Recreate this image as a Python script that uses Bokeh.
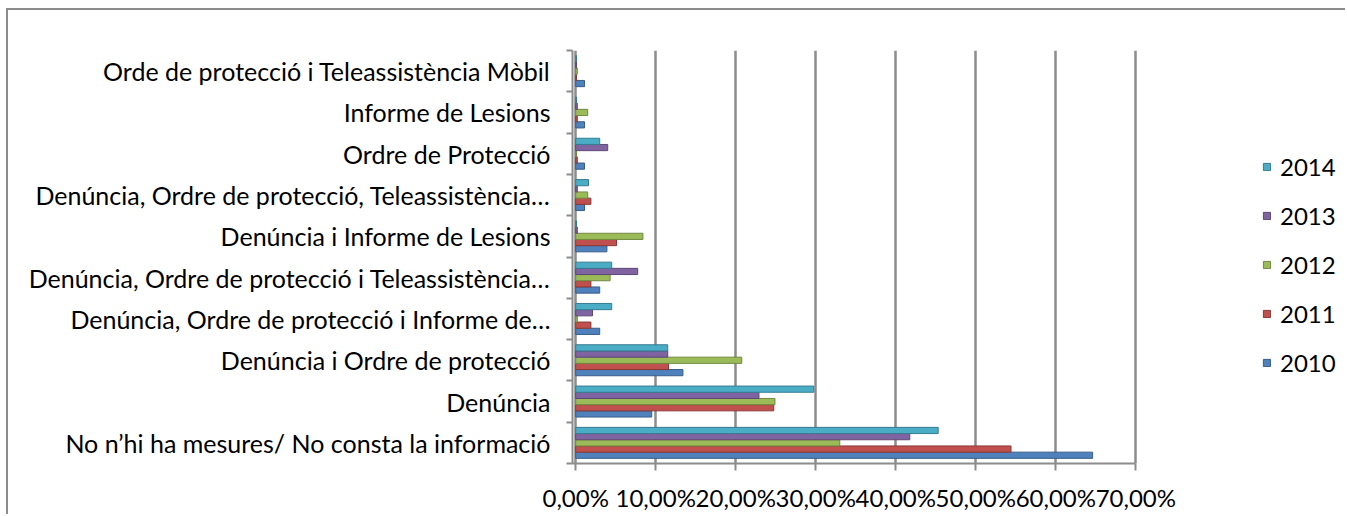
from bokeh.plotting import figure
from bokeh.models import ColumnDataSource, Range1d, FixedTicker, Legend, LegendItem
from bokeh.transform import dodge
from bokeh.embed import file_html
from bokeh.resources import INLINE

categories = [
    "No n’hi ha mesures/ No consta la informació",
    "Denúncia",
    "Denúncia i Ordre de protecció",
    "Denúncia, Ordre de protecció i Informe de…",
    "Denúncia, Ordre de protecció i Teleassistència…",
    "Denúncia i Informe de Lesions",
    "Denúncia, Ordre de protecció, Teleassistència…",
    "Ordre de Protecció",
    "Informe de Lesions",
    "Orde de protecció i Teleassistència Mòbil",
]
years = ["2010", "2011", "2012", "2013", "2014"]
v2010 = [64.6, 9.5, 13.4, 3.0, 3.0, 3.9, 1.1, 1.1, 1.1, 1.1]
v2011 = [54.4, 24.75, 11.6, 1.9, 1.9, 5.1, 1.9, 0.2, 0.2, 0.1]
v2012 = [33.0, 24.9, 20.75, 0.2, 4.3, 8.4, 1.5, 0.1, 1.5, 0.2]
v2013 = [41.75, 22.9, 11.5, 2.1, 7.75, 0.2, 0.2, 4.0, 0.2, 0.1]
v2014 = [45.3, 29.75, 11.5, 4.5, 4.5, 0.1, 1.6, 3.0, 0.1, 0.1]
x_ticks = [0, 10, 20, 30, 40, 50, 60, 70]
x_tick_labels = ["0,00%", "10,00%", "20,00%", "30,00%", "40,00%", "50,00%", "60,00%", "70,00%"]

colors = ["#4F81BD", "#C0504D", "#9BBB59", "#8064A2", "#4BACC6"]
edges = ["#385D8A", "#8C3836", "#71893F", "#5C4776", "#357D91"]
series = [v2010, v2011, v2012, v2013, v2014]
offsets = [-0.3, -0.15, 0.0, 0.15, 0.3]

pos = [i + 0.5 for i in range(len(categories))]
data = {"pos": pos}
for y, vals in zip(years, series):
    data["y" + y] = vals
src = ColumnDataSource(data)

FONT = "Lato"
FS = "24px"

p = figure(width=1339, height=506, output_backend="svg", toolbar_location=None,
           x_range=Range1d(-0.4, 96.2), y_range=Range1d(0, 10),
           min_border_left=564, min_border_right=2, min_border_top=40, min_border_bottom=53)
p.outline_line_color = None
p.styles = {"border-left": "2px solid #8c8c8c", "border-top": "2px solid #8c8c8c",
            "margin-left": "6px", "margin-top": "8px"}

items = []
for y, c, e, off in zip(years, colors, edges, offsets):
    r = p.hbar(y=dodge("pos", off, range=p.y_range), right="y" + y, left=0, height=0.15,
               source=src, fill_color=c, line_color=e, line_width=1)
    items.append(LegendItem(label=y, renderers=[r]))

# x axis
p.xaxis.bounds = (-0.4, 70)
p.xaxis.ticker = FixedTicker(ticks=x_ticks, minor_ticks=[])
p.xaxis.major_label_overrides = {t: l for t, l in zip(x_ticks, x_tick_labels)}
p.xaxis.axis_line_color = "#8c8c8c"
p.xaxis.axis_line_width = 2
p.xaxis.major_tick_line_color = "#8c8c8c"
p.xaxis.major_tick_line_width = 2
p.xaxis.major_tick_out = 7
p.xaxis.major_tick_in = 0
p.xaxis.major_label_standoff = 12
p.xaxis.major_label_text_font = FONT
p.xaxis.major_label_text_font_size = FS
p.xaxis.major_label_text_color = "#000000"

# y axis
p.yaxis.ticker = FixedTicker(ticks=pos, minor_ticks=list(range(len(categories) + 1)))
p.yaxis.major_label_overrides = {t: l for t, l in zip(pos, categories)}
p.yaxis.axis_line_color = "#8c8c8c"
p.yaxis.axis_line_width = 2
p.yaxis.major_tick_out = 0
p.yaxis.major_tick_in = 0
p.yaxis.minor_tick_out = 6
p.yaxis.minor_tick_in = 0
p.yaxis.minor_tick_line_color = "#8c8c8c"
p.yaxis.minor_tick_line_width = 2
p.yaxis.major_label_standoff = 16
p.yaxis.major_label_text_font = FONT
p.yaxis.major_label_text_font_size = "25px"
p.yaxis.major_label_text_color = "#000000"

p.xgrid.ticker = FixedTicker(ticks=x_ticks)
p.xgrid.grid_line_color = "#8c8c8c"
p.xgrid.grid_line_width = 2.5
p.ygrid.grid_line_color = None

legend = Legend(items=list(reversed(items)), location=(690, 86))
legend.border_line_color = None
legend.background_fill_alpha = 0
legend.padding = 0
legend.margin = 0
legend.spacing = 20
legend.label_height = 24
legend.glyph_width = 9
legend.glyph_height = 9
legend.label_standoff = 9
legend.label_text_font = FONT
legend.label_text_font_size = FS
legend.label_text_color = "#000000"
p.add_layout(legend, "center")

open("out.html", "w").write(file_html(p, INLINE))
